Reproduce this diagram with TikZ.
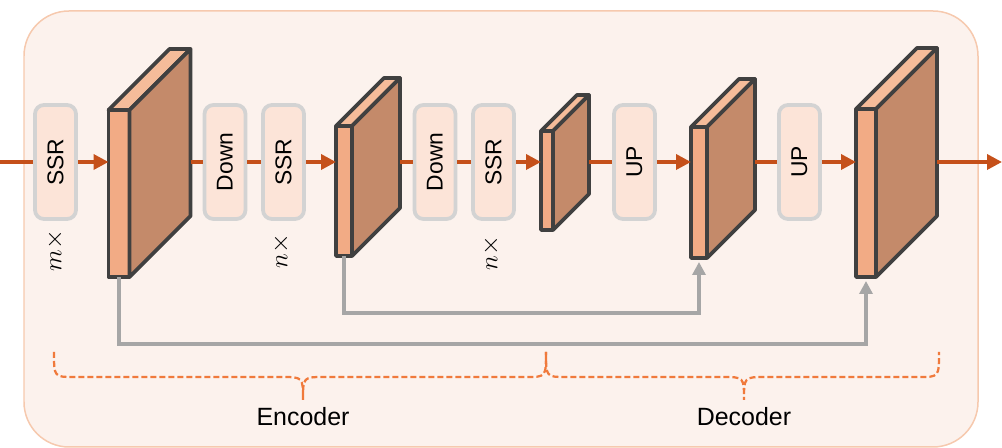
\documentclass[tikz,border=0pt]{standalone}
\usepackage{fontspec}
\setmainfont{Liberation Sans}
\usetikzlibrary{arrows.meta}

\definecolor{bgfill}{HTML}{FCF2ED}
\definecolor{bgline}{HTML}{F6C9AE}
\definecolor{flowc}{HTML}{C5501A}
\definecolor{boxfill}{HTML}{FCE4D8}
\definecolor{boxline}{HTML}{D3D3D3}
\definecolor{frontc}{HTML}{F2AB85}
\definecolor{topc}{HTML}{F5BC9A}
\definecolor{sidec}{HTML}{C48A6A}
\definecolor{edgec}{HTML}{404040}
\definecolor{skipc}{HTML}{A6A6A6}
\definecolor{bracec}{HTML}{F07A3C}

\newcommand{\pxu}{0.02cm}

% feature map: name, centre x, centre y, width, height, depth
\newcommand{\fmap}[6]{%
    \node[fface, minimum width=#4*\pxu, minimum height=#5*\pxu] (#1) at (#2,#3) {};
    \draw[fedge, fill=topc ] (#1.north west) -- ++(#6,-#6) -- ++(#4,0) -- (#1.north east) -- cycle;
    \draw[fedge, fill=sidec] (#1.north east) -- ++(#6,-#6) -- ++(0,#5) -- (#1.south east) -- cycle;
    \path (#1.east) ++(#6,0) coordinate (#1-b);
}

\begin{document}
\begin{tikzpicture}[x=\pxu, y=-\pxu,
        blk/.style={draw=boxline, fill=boxfill, line width=0.075cm, rounded corners=0.18cm,
                    minimum width=41*\pxu, minimum height=114*\pxu, inner sep=0pt,
                    font=\fontsize{13}{15}\selectfont},
        fface/.style={draw=edgec, fill=frontc, line width=0.075cm, line join=round,
                      outer sep=0pt, inner sep=0pt},
        fedge/.style={draw=edgec, line width=0.075cm, line join=round},
        flow/.style={draw=flowc, line width=0.07cm},
        flowarr/.style={flow, -{Triangle[length=0.3cm, width=0.3cm]}},
        skip/.style={draw=skipc, line width=0.065cm, shorten >=0.08cm,
                     -{Triangle[length=0.26cm, width=0.26cm]}},
        brace/.style={draw=bracec, line width=0.045cm, dash pattern=on 0.12cm off 0.06cm},
        rep/.style={font=\fontsize{15}{17}\selectfont, inner sep=0pt},
        lbl/.style={font=\fontsize{14.2}{16}\selectfont, inner sep=0pt}]
    \useasboundingbox (0,0) rectangle (1002,448);
    \draw[draw=bgline, fill=bgfill, line width=0.03cm, rounded corners=0.9cm] (24,11) rectangle (978,447);

    \coordinate (in)   at (   0,162);
    \coordinate (out)  at (1002,162);
    \coordinate (flow) at (   0,162);

    \node[blk] (ssr1)  at ( 55.5,162) {\rotatebox{90}{SSR}};
    \node[blk] (down1) at (225  ,162) {\rotatebox{90}{Down}};
    \node[blk] (ssr2)  at (283.5,162) {\rotatebox{90}{SSR}};
    \node[blk] (down2) at (435  ,162) {\rotatebox{90}{Down}};
    \node[blk] (ssr3)  at (493.5,162) {\rotatebox{90}{SSR}};
    \node[blk] (up1)   at (634.5,162) {\rotatebox{90}{UP}};
    \node[blk] (up2)   at (799.5,162) {\rotatebox{90}{UP}};

    \node[rep] (rep1) at ( 55,251) {\rotatebox{90}{$m\times$}};
    \node[rep] (rep2) at (281,251) {\rotatebox{90}{$n\times$}};
    \node[rep] (rep3) at (491,253) {\rotatebox{90}{$n\times$}};

    \fmap{f1}{119}{193.5}{21}{167}{61}
    \fmap{f2}{344}{191  }{16}{130}{48}
    \fmap{f3}{547}{180.5}{12}{ 99}{36}
    \fmap{f4}{699}{192.5}{16}{131}{48}
    \fmap{f5}{866}{193  }{20}{168}{61}

    \draw[flow   ] (in)          -- (ssr1.west);
    \draw[flowarr] (ssr1.east)   -- (ssr1.east -| f1.west);
    \draw[flow   ] (f1-b |- flow) -- (down1.west);
    \draw[flow   ] (down1.east)  -- (ssr2.west);
    \draw[flowarr] (ssr2.east)   -- (ssr2.east -| f2.west);
    \draw[flow   ] (f2-b |- flow) -- (down2.west);
    \draw[flow   ] (down2.east)  -- (ssr3.west);
    \draw[flowarr] (ssr3.east)   -- (ssr3.east -| f3.west);
    \draw[flow   ] (f3-b |- flow) -- (up1.west);
    \draw[flowarr] (up1.east)    -- (up1.east -| f4.west);
    \draw[flow   ] (f4-b |- flow) -- (up2.west);
    \draw[flowarr] (up2.east)    -- (up2.east -| f5.west);
    \draw[flowarr] (f5-b |- flow) -- (out);

    % skip connections
    \draw[skip] (f1.south) -- ++(0,67) -| (f5.south);
    \draw[skip] (f2.south) -- ++(0,57) -| (f4.south);

    % braces
    \draw[brace] (54,352) .. controls (54,377) .. (74,377) -- (281,377)
                 .. controls (303,377) .. (303,400) .. controls (303,377) .. (325,377)
                 -- (526,377) .. controls (546,377) .. (546,352);
    \draw[brace] (546,352) .. controls (546,377) .. (566,377) -- (722,377)
                 .. controls (744,377) .. (744,400) .. controls (744,377) .. (766,377)
                 -- (919,377) .. controls (939,377) .. (939,352);

    \node[lbl] (enc) at (303,417) {Encoder};
    \node[lbl] (dec) at (744,417) {Decoder};
\end{tikzpicture}
\end{document}
